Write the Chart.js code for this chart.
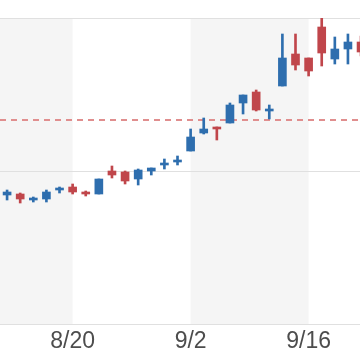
<!DOCTYPE html>
<html>
<head>
<meta charset="utf-8">
<script src="https://cdn.jsdelivr.net/npm/chart.js@4"></script>
<style>
html,body{margin:0;padding:0;background:#fff;}
#wrap{width:360px;height:360px;}
</style>
</head>
<body>
<div id="wrap"><canvas id="c" width="360" height="360"></canvas></div>
<script>
const dates = ['8/13','8/14','8/17','8/18','8/19','8/20','8/21','8/24','8/25','8/26','8/27','8/28','8/31','9/1','9/2','9/3','9/4','9/8','9/9','9/10','9/11','9/14','9/15','9/16','9/17','9/18','9/21','9/22'];
const opens  = [1129,1130,1124,1125,1134,1137,1132,1130,1153,1152,1145,1153,1159,1162,1173,1191,1197,1201,1221,1232,1213,1238,1270,1266,1297,1265,1275,1282];
const highs  = [1134,1131,1127,1134,1137,1140,1133,1145,1158,1153,1155,1156,1165,1168,1195,1206,1197,1221,1229,1234,1219,1290,1290,1266,1306,1287,1290,1288];
const lows   = [1124,1121,1122,1122,1131,1130,1128,1130,1146,1140,1139,1149,1155,1159,1173,1190,1184,1201,1210,1213,1205,1238,1254,1248,1258,1260,1260,1268];
const closes = [1132,1125,1126,1132,1136,1132,1130,1145,1149,1143,1154,1156,1161,1164,1187,1195,1195,1219,1229,1214,1215,1266,1259,1253,1271,1275,1282,1272];
const tickLabels = ['8/20','9/2','9/16'];
const refLine = 1204;
const yTicks = [1000,1153,1306];

const UP = '#2e6eae', DOWN = '#c0464b';
const colorOf = (i) => closes[i] >= opens[i] ? UP : DOWN;

const bodies = opens.map((o,i)=>({x:i, y:[o, closes[i]]}));
const wicks = highs.map((h,i)=>({x:i, y:[lows[i], h]}));

const bandPlugin = {
  id:'bands',
  beforeDraw(chart){
    const {ctx, chartArea:a, scales:{x}} = chart;
    const edges = [a.left, ...x.ticks.map(t=>x.getPixelForValue(t.value)), a.right];
    ctx.save();
    ctx.fillStyle = '#f5f5f5';
    for(let i=0;i<edges.length-1;i+=2){
      ctx.fillRect(edges[i], a.top, edges[i+1]-edges[i], a.bottom-a.top);
    }
    ctx.restore();
  },
  beforeDatasetsDraw(chart){
    const {ctx, chartArea:a, scales:{y}} = chart;
    const py = y.getPixelForValue(refLine);
    ctx.save();
    ctx.strokeStyle = '#e08e8e';
    ctx.lineWidth = 2;
    ctx.setLineDash([6,5]);
    ctx.beginPath();
    ctx.moveTo(a.left, py);
    ctx.lineTo(a.right, py);
    ctx.stroke();
    ctx.restore();
  }
};

new Chart(document.getElementById('c'), {
  type:'bar',
  data:{
    datasets:[
      {label:'body', data:bodies, grouped:false, barThickness:8,
       backgroundColor:(c)=>colorOf(c.dataIndex), borderWidth:0},
      {label:'wick', data:wicks, grouped:false, barThickness:2,
       backgroundColor:(c)=>colorOf(c.dataIndex), borderWidth:0}
    ]
  },
  options:{
    responsive:false,
    animation:false,
    events:[],
    layout:{padding:{top:18,left:0,right:0,bottom:0}},
    plugins:{legend:{display:false}, tooltip:{enabled:false}},
    scales:{
      x:{
        type:'linear', min:-0.54, max:26.92, offset:false,
        grid:{display:false}, border:{display:false},
        afterBuildTicks:(s)=>{ s.ticks = tickLabels.map(l=>({value:dates.indexOf(l)})); },
        afterFit:(s)=>{ s.height = 36; },
        ticks:{
          autoSkip:false, maxRotation:0, padding:-2,
          color:'#4d4d4d',
          font:{family:'"Liberation Sans", Arial, sans-serif', size:23, lineHeight:1},
          callback:(v)=>dates[Math.round(v)]
        }
      },
      y:{
        min:yTicks[0], max:yTicks[yTicks.length-1],
        afterBuildTicks:(s)=>{ s.ticks = yTicks.map(v=>({value:v})); },
        ticks:{display:false},
        grid:{color:'#e0e0e0', lineWidth:1, drawTicks:false},
        border:{display:false}
      }
    }
  },
  plugins:[bandPlugin]
});
</script>
</body>
</html>
